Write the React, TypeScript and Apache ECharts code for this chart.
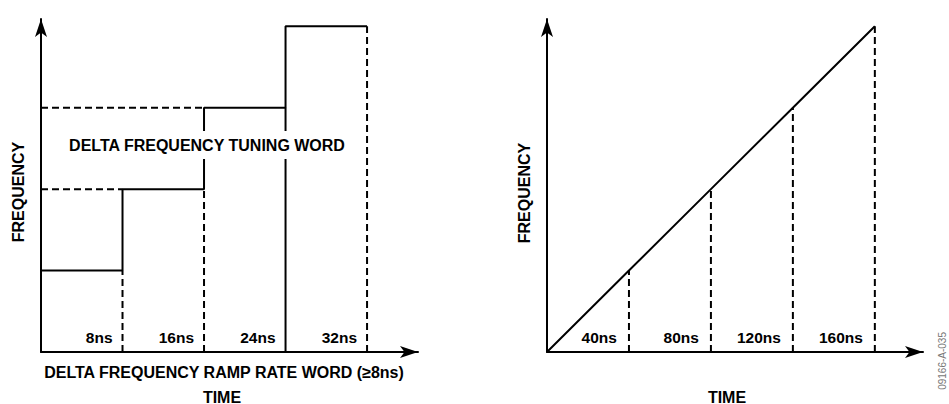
import React, { useEffect, useRef } from "react";
import * as echarts from "echarts";

// Left panel: stepped frequency (delta frequency tuning word / ramp rate word)
const stepTimes = [8, 16, 24, 32]; // ns, end of each step
const stepLevels = [1, 2, 3, 4]; // frequency level of each step
const stepLabels = ["8ns", "16ns", "24ns", "32ns"];
const stepSolidDrops = [24]; // drop line drawn solid instead of dashed
const stepDashedLevelIdx = [1, 2]; // steps with a dashed guide back to the y-axis

// Right panel: linear ramp
const rampTimes = [40, 80, 120, 160];
const rampLevels = [1, 2, 3, 4];
const rampLabels = ["40ns", "80ns", "120ns", "160ns"];

const FONT = "'Liberation Sans', Arial, Helvetica, sans-serif";
const BLACK = "#000";

function axisPair(gridIndex: number, xMax: number, yMax: number) {
  const common = {
    gridIndex,
    type: "value" as const,
    min: 0,
    axisTick: { show: false },
    axisLabel: { show: false },
    splitLine: { show: false },
    axisLine: {
      show: true,
      symbol: ["none", "arrow"],
      symbolSize: [9, 18],
      lineStyle: { color: BLACK, width: 2 },
    },
  };
  return {
    x: { ...common, max: xMax },
    y: { ...common, max: yMax },
  };
}

function seg(idx: number, pts: number[][], dashed: boolean): any {
  return {
    type: "line",
    xAxisIndex: idx,
    yAxisIndex: idx,
    data: pts,
    symbol: "none",
    showSymbol: false,
    silent: true,
    z: 3,
    lineStyle: { color: BLACK, width: 2, opacity: 1, type: dashed ? [7, 4] : "solid" },
  };
}

function labelSeries(idx: number, times: number[], labels: string[], dx: number): any {
  return {
    type: "scatter",
    xAxisIndex: idx,
    yAxisIndex: idx,
    symbolSize: 0,
    silent: true,
    z: 5,
    itemStyle: { color: BLACK },
    data: times.map((t, i) => ({ value: [t, 0], name: labels[i] })),
    label: {
      show: true,
      position: [dx, -15],
      align: "right",
      verticalAlign: "middle",
      formatter: (p: any) => p.name,
      color: BLACK,
      opacity: 1,
      fontFamily: FONT,
      fontWeight: "bold",
      fontSize: 15.5,
    },
  };
}

export default function App() {
  const ref = useRef<HTMLDivElement>(null);

  useEffect(() => {
    if (!ref.current) return;
    const chart = echarts.init(ref.current, null, { renderer: "svg" });

    const left = axisPair(0, 37, 4.09);
    const right = axisPair(1, 183.5, 4.09);

    const series: any[] = [];

    // Left: solid staircase
    const stair: number[][] = [];
    stepTimes.forEach((t, i) => {
      const start = i === 0 ? 0 : stepTimes[i - 1];
      stair.push([start, stepLevels[i]]);
      stair.push([t, stepLevels[i]]);
    });
    series.push(seg(0, stair, false));

    // Left: drop lines from each step end to the time axis
    stepTimes.forEach((t, i) => {
      const solid = stepSolidDrops.includes(t);
      series.push(seg(0, [[t, 0], [t, stepLevels[i]]], !solid));
    });

    // Left: dashed guides back to the frequency axis
    stepDashedLevelIdx.forEach((i) => {
      series.push(seg(0, [[0, stepLevels[i]], [stepTimes[i - 1], stepLevels[i]]], true));
    });

    series.push(labelSeries(0, stepTimes, stepLabels, -10));

    // Right: ramp
    series.push(seg(1, [[0, 0], ...rampTimes.map((t, i) => [t, rampLevels[i]])], false));
    rampTimes.forEach((t, i) => {
      series.push(seg(1, [[t, 0], [t, rampLevels[i]]], true));
    });
    series.push(labelSeries(1, rampTimes, rampLabels, -12));

    const txt = (text: string, x: number, y: number, extra: any = {}, style: any = {}) => ({
      type: "text",
      x,
      y,
      z: 100,
      silent: true,
      ...extra,
      style: {
        text,
        fill: BLACK,
        font: `bold 16px ${FONT}`,
        align: "center",
        verticalAlign: "middle",
        ...style,
      },
    });

    chart.setOption({
      animation: false,
      backgroundColor: "#fff",
      grid: [
        { left: 41, top: 19, width: 377, height: 333 },
        { left: 547, top: 19, width: 376, height: 333 },
      ],
      xAxis: [left.x, right.x],
      yAxis: [left.y, right.y],
      series,
      graphic: [
        txt("DELTA FREQUENCY TUNING WORD", 207, 145, {}, {
          backgroundColor: "#fff",
          padding: [6, 5, 6, 5],
        }),
        txt("DELTA FREQUENCY RAMP RATE WORD (≥8ns)", 224, 372),
        txt("TIME", 222, 397),
        txt("TIME", 727, 397),
        txt("FREQUENCY", 18, 192, { rotation: Math.PI / 2 }),
        txt("FREQUENCY", 524, 193, { rotation: Math.PI / 2 }),
        txt("09166-A-035", 942, 332, { rotation: Math.PI / 2 }, {
          font: `10px ${FONT}`,
          fill: "#777",
          align: "right",
        }),
      ],
    });

    return () => chart.dispose();
  }, []);

  return (
    <div
      ref={ref}
      style={{ position: "absolute", left: 0, top: 0, width: 949, height: 404 }}
    />
  );
}
